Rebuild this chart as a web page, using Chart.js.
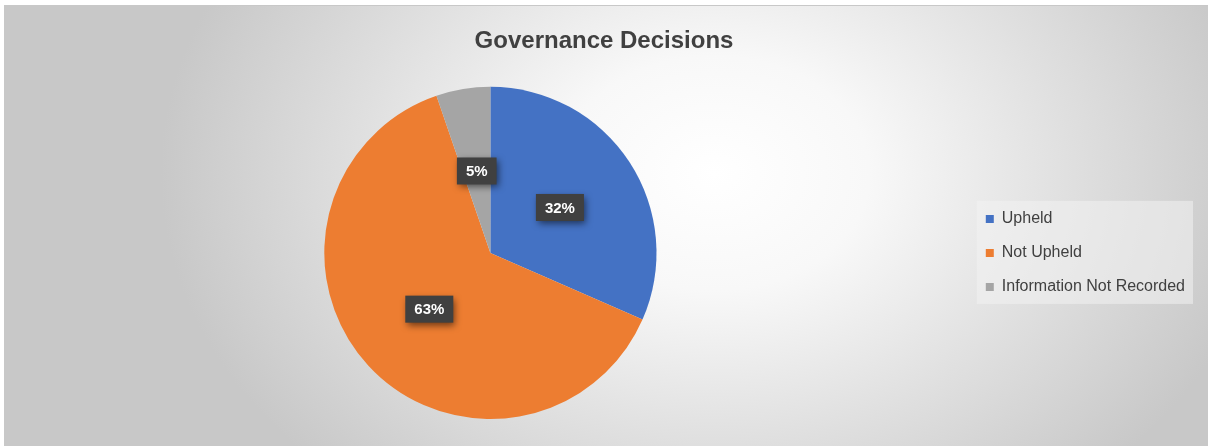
<!DOCTYPE html>
<html>
<head>
<meta charset="utf-8">
<script src="https://cdn.jsdelivr.net/npm/chart.js@4"></script>
<style>
  html, body { margin: 0; padding: 0; background: #fff; }
  #wrap {
    position: absolute; left: 4px; top: 5px; width: 1204px; height: 441px;
    border-top: 1px solid #c8c8c8; box-sizing: border-box;
    background: radial-gradient(ellipse 46% 95% at 59% 38%, #ffffff 0%, #f8f8f8 28%, #dfdfdf 65%, #c8c8c8 100%);
  }
</style>
</head>
<body>
<div id="wrap"><canvas id="myChart" width="1204" height="440"></canvas></div>
<script>
const categories = ['Upheld', 'Not Upheld', 'Information Not Recorded']
const counts = [6, 12, 1]
const percentLabels = ['32%', '63%', '5%']
const sliceColors = ['#4472C4', '#ED7D31', '#A5A5A5']

// grey panel behind the legend, like the excel one
const legendPanel = {
    id: 'legendPanel',
    beforeDraw(chart){
        const lg = chart.legend
        if(!lg || !lg.legendHitBoxes.length) return
        const boxes = lg.legendHitBoxes
        const top = boxes[0].top - 10
        const bottom = boxes[boxes.length - 1].top + boxes[boxes.length - 1].height + 9
        const ctx = chart.ctx
        ctx.save()
        ctx.fillStyle = 'rgba(242,242,242,0.55)'
        ctx.fillRect(boxes[0].left - 9, top, lg.right - boxes[0].left + 7, bottom - top)
        ctx.restore()
    }
}

// dark callout boxes with the percentages
const sliceLabels = {
    id: 'sliceLabels',
    afterDatasetsDraw(chart){
        const ctx = chart.ctx
        const meta = chart.getDatasetMeta(0)
        ctx.save()
        ctx.font = 'bold 15px "Liberation Sans", Arial, sans-serif'
        ctx.textAlign = 'center'
        ctx.textBaseline = 'middle'
        meta.data.forEach((arc, i) => {
            const p = arc.tooltipPosition()
            const w = ctx.measureText(percentLabels[i]).width + 18
            const h = 27
            ctx.shadowColor = 'rgba(0,0,0,0.55)'
            ctx.shadowBlur = 7
            ctx.shadowOffsetX = 2
            ctx.shadowOffsetY = 3
            ctx.fillStyle = '#404040'
            ctx.fillRect(p.x - w / 2, p.y - h / 2, w, h)
            ctx.shadowColor = 'transparent'
            ctx.fillStyle = '#ffffff'
            ctx.fillText(percentLabels[i], p.x, p.y + 1)
        })
        ctx.restore()
    }
}

function displayChart(){
    const ctx = document.getElementById('myChart')
    new Chart(ctx, {
        type: 'pie',
        data: {
            labels: categories,
            datasets: [{
                data: counts,
                backgroundColor: sliceColors,
                borderWidth: 0
            }]
        },
        options: {
            responsive: false,
            animation: false,
            layout: {
                padding: { left: 9, right: 13, bottom: 27 }
            },
            plugins: {
                title: {
                    display: true,
                    text: 'Governance Decisions',
                    color: '#404040',
                    font: { family: '"Liberation Sans", Arial, sans-serif', size: 24, weight: 'bold' },
                    padding: { top: 21, bottom: 31 }
                },
                legend: {
                    position: 'right',
                    fullSize: false,
                    labels: {
                        boxWidth: 8,
                        boxHeight: 8,
                        padding: 18,
                        color: '#404040',
                        font: { family: '"Liberation Sans", Arial, sans-serif', size: 16 }
                    }
                },
                tooltip: { enabled: false }
            }
        },
        plugins: [legendPanel, sliceLabels]
    })
}

displayChart()
</script>
</body>
</html>
